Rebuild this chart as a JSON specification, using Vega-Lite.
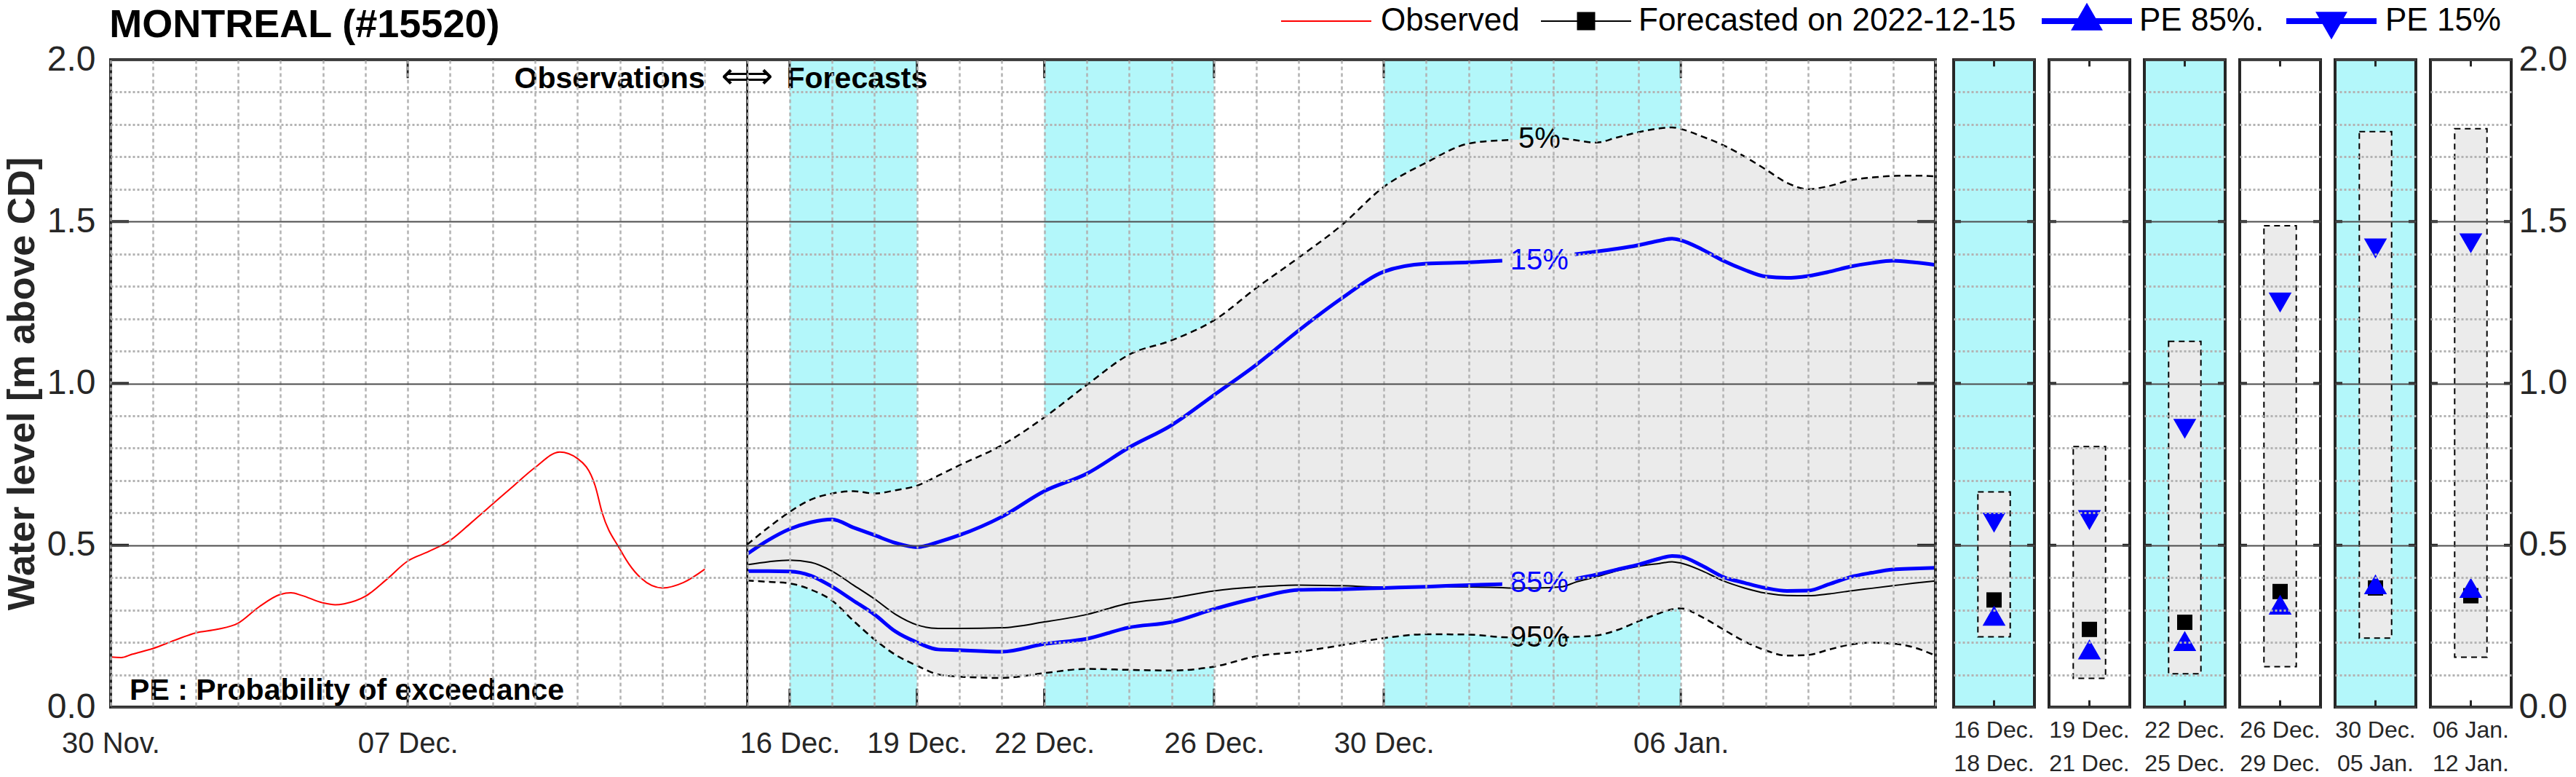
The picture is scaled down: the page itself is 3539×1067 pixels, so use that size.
{
  "$schema": "https://vega.github.io/schema/vega-lite/v6.json",
  "background": "white",
  "padding": {"left": 4, "top": 5, "right": 0, "bottom": 0},
  "title": {"text": "MONTREAL (#15520)", "anchor": "start", "fontSize": 54, "fontWeight": "bold", "color": "#000000", "font": "Liberation Sans", "offset": 0, "dx": 146, "dy": 57},
  "spacing": 25,
  "bounds": "flush",
  "resolve": {"scale": {"x": "independent", "y": "independent", "color": "independent"}},
  "config": {
    "view": {"stroke": null},
    "font": "Liberation Sans",
    "axis": {"labelFont": "Liberation Sans", "titleFont": "Liberation Sans"},
    "text": {"font": "Liberation Sans"},
    "legend": {"orient": "none", "direction": "horizontal", "title": null, "padding": 0, "symbolSize": 1600, "labelFontSize": 44, "labelFont": "Liberation Sans", "labelColor": "#000000", "labelLimit": 2000, "labelBaseline": "middle", "symbolOpacity": 1}
  },
  "datasets": {
    "obs": [
      {"t": "2022-11-30T00:00", "v": 0.155}, {"t": "2022-11-30T06:00", "v": 0.153}, {"t": "2022-11-30T12:00", "v": 0.163},
      {"t": "2022-12-01T00:00", "v": 0.181}, {"t": "2022-12-01T12:00", "v": 0.206}, {"t": "2022-12-02T00:00", "v": 0.229},
      {"t": "2022-12-02T12:00", "v": 0.240}, {"t": "2022-12-03T00:00", "v": 0.259}, {"t": "2022-12-03T12:00", "v": 0.310},
      {"t": "2022-12-04T00:00", "v": 0.348}, {"t": "2022-12-04T06:00", "v": 0.353}, {"t": "2022-12-04T12:00", "v": 0.345},
      {"t": "2022-12-05T00:00", "v": 0.322}, {"t": "2022-12-05T07:00", "v": 0.316}, {"t": "2022-12-05T12:00", "v": 0.319},
      {"t": "2022-12-06T00:00", "v": 0.342}, {"t": "2022-12-06T12:00", "v": 0.394}, {"t": "2022-12-07T00:00", "v": 0.451},
      {"t": "2022-12-07T12:00", "v": 0.481}, {"t": "2022-12-08T00:00", "v": 0.515}, {"t": "2022-12-08T12:00", "v": 0.570},
      {"t": "2022-12-09T00:00", "v": 0.627}, {"t": "2022-12-09T12:00", "v": 0.684}, {"t": "2022-12-10T00:00", "v": 0.740},
      {"t": "2022-12-10T14:00", "v": 0.788}, {"t": "2022-12-11T00:00", "v": 0.768}, {"t": "2022-12-11T10:00", "v": 0.684},
      {"t": "2022-12-11T14:00", "v": 0.600}, {"t": "2022-12-12T00:00", "v": 0.488}, {"t": "2022-12-12T05:00", "v": 0.443},
      {"t": "2022-12-12T12:00", "v": 0.398}, {"t": "2022-12-13T00:00", "v": 0.368}, {"t": "2022-12-13T12:00", "v": 0.385},
      {"t": "2022-12-14T00:00", "v": 0.426}
    ],
    "fc": [
      {"t": "2022-12-15T00:00", "p5": 0.502, "p15": 0.473, "fc": 0.440, "p85": 0.420, "p95": 0.391},
      {"t": "2022-12-15T12:00", "p5": 0.555, "p15": 0.516, "fc": 0.449, "p85": 0.420, "p95": 0.387},
      {"t": "2022-12-16T00:00", "p5": 0.603, "p15": 0.550, "fc": 0.454, "p85": 0.419, "p95": 0.382},
      {"t": "2022-12-16T12:00", "p5": 0.641, "p15": 0.571, "fc": 0.447, "p85": 0.406, "p95": 0.363},
      {"t": "2022-12-17T00:00", "p5": 0.660, "p15": 0.580, "fc": 0.420, "p85": 0.372, "p95": 0.329},
      {"t": "2022-12-17T12:00", "p5": 0.667, "p15": 0.555, "fc": 0.377, "p85": 0.329, "p95": 0.267},
      {"t": "2022-12-18T00:00", "p5": 0.660, "p15": 0.531, "fc": 0.334, "p85": 0.286, "p95": 0.209},
      {"t": "2022-12-18T12:00", "p5": 0.670, "p15": 0.507, "fc": 0.286, "p85": 0.233, "p95": 0.161},
      {"t": "2022-12-19T00:00", "p5": 0.684, "p15": 0.494, "fc": 0.254, "p85": 0.200, "p95": 0.128},
      {"t": "2022-12-19T12:00", "p5": 0.715, "p15": 0.510, "fc": 0.243, "p85": 0.178, "p95": 0.101},
      {"t": "2022-12-20T00:00", "p5": 0.747, "p15": 0.531, "fc": 0.243, "p85": 0.176, "p95": 0.094},
      {"t": "2022-12-21T00:00", "p5": 0.809, "p15": 0.588, "fc": 0.245, "p85": 0.171, "p95": 0.090},
      {"t": "2022-12-22T00:00", "p5": 0.895, "p15": 0.667, "fc": 0.263, "p85": 0.195, "p95": 0.105},
      {"t": "2022-12-23T00:00", "p5": 0.995, "p15": 0.721, "fc": 0.286, "p85": 0.211, "p95": 0.118},
      {"t": "2022-12-24T00:00", "p5": 1.089, "p15": 0.802, "fc": 0.321, "p85": 0.246, "p95": 0.115},
      {"t": "2022-12-25T00:00", "p5": 1.133, "p15": 0.871, "fc": 0.337, "p85": 0.263, "p95": 0.113},
      {"t": "2022-12-26T00:00", "p5": 1.195, "p15": 0.964, "fc": 0.359, "p85": 0.303, "p95": 0.125},
      {"t": "2022-12-27T00:00", "p5": 1.295, "p15": 1.058, "fc": 0.371, "p85": 0.337, "p95": 0.157},
      {"t": "2022-12-28T00:00", "p5": 1.389, "p15": 1.164, "fc": 0.377, "p85": 0.362, "p95": 0.171},
      {"t": "2022-12-29T00:00", "p5": 1.488, "p15": 1.262, "fc": 0.375, "p85": 0.364, "p95": 0.191},
      {"t": "2022-12-30T00:00", "p5": 1.607, "p15": 1.345, "fc": 0.371, "p85": 0.368, "p95": 0.213},
      {"t": "2022-12-31T00:00", "p5": 1.682, "p15": 1.370, "fc": 0.371, "p85": 0.372, "p95": 0.225},
      {"t": "2023-01-01T00:00", "p5": 1.741, "p15": 1.374, "fc": 0.371, "p85": 0.377, "p95": 0.224},
      {"t": "2023-01-01T19:00", "p5": 1.751, "p15": 1.379, "fc": 0.369, "p85": 0.380, "p95": 0.216},
      {"t": "2023-01-02T00:00", "p5": 1.752, "p15": null, "fc": 0.368, "p85": null, "p95": 0.215},
      {"t": "2023-01-02T14:00", "p5": null, "p15": null, "fc": 0.368, "p85": null, "p95": null},
      {"t": "2023-01-03T05:00", "p5": 1.757, "p15": null, "fc": 0.372, "p85": null, "p95": 0.215},
      {"t": "2023-01-03T12:00", "p5": 1.752, "p15": 1.399, "fc": 0.385, "p85": 0.396, "p95": 0.217},
      {"t": "2023-01-04T00:00", "p5": 1.744, "p15": 1.407, "fc": 0.402, "p85": 0.409, "p95": 0.221},
      {"t": "2023-01-04T12:00", "p5": 1.760, "p15": 1.416, "fc": 0.421, "p85": 0.425, "p95": 0.238},
      {"t": "2023-01-05T00:00", "p5": 1.776, "p15": 1.427, "fc": 0.435, "p85": 0.440, "p95": 0.265},
      {"t": "2023-01-05T12:00", "p5": 1.788, "p15": 1.441, "fc": 0.444, "p85": 0.459, "p95": 0.290},
      {"t": "2023-01-05T19:00", "p5": 1.791, "p15": 1.447, "fc": 0.449, "p85": 0.467, "p95": 0.302},
      {"t": "2023-01-06T00:00", "p5": 1.786, "p15": 1.442, "fc": 0.445, "p85": 0.465, "p95": 0.305},
      {"t": "2023-01-06T12:00", "p5": 1.763, "p15": 1.414, "fc": 0.421, "p85": 0.437, "p95": 0.278},
      {"t": "2023-01-07T00:00", "p5": 1.736, "p15": 1.379, "fc": 0.390, "p85": 0.402, "p95": 0.240},
      {"t": "2023-01-07T12:00", "p5": 1.701, "p15": 1.351, "fc": 0.368, "p85": 0.384, "p95": 0.203},
      {"t": "2023-01-08T00:00", "p5": 1.661, "p15": 1.330, "fc": 0.352, "p85": 0.368, "p95": 0.175},
      {"t": "2023-01-08T12:00", "p5": 1.620, "p15": 1.326, "fc": 0.345, "p85": 0.359, "p95": 0.159},
      {"t": "2023-01-09T00:00", "p5": 1.600, "p15": 1.332, "fc": 0.344, "p85": 0.360, "p95": 0.161},
      {"t": "2023-01-09T12:00", "p5": 1.610, "p15": 1.345, "fc": 0.350, "p85": 0.380, "p95": 0.178},
      {"t": "2023-01-10T00:00", "p5": 1.628, "p15": 1.361, "fc": 0.359, "p85": 0.402, "p95": 0.193},
      {"t": "2023-01-10T12:00", "p5": 1.636, "p15": 1.372, "fc": 0.367, "p85": 0.415, "p95": 0.199},
      {"t": "2023-01-11T00:00", "p5": 1.641, "p15": 1.379, "fc": 0.375, "p85": 0.425, "p95": 0.196},
      {"t": "2023-01-11T12:00", "p5": 1.642, "p15": 1.374, "fc": 0.383, "p85": 0.428, "p95": 0.184},
      {"t": "2023-01-12T00:00", "p5": 1.640, "p15": 1.366, "fc": 0.390, "p85": 0.430, "p95": 0.159}
    ],
    "bands": [
      {"s": "2022-12-16T00:00", "e": "2022-12-19T00:00"},
      {"s": "2022-12-22T00:00", "e": "2022-12-26T00:00"},
      {"s": "2022-12-30T00:00", "e": "2023-01-06T00:00"}
    ],
    "xticks": [
      {"t": "2022-12-07T00:00"}, {"t": "2022-12-16T00:00"}, {"t": "2022-12-19T00:00"}, {"t": "2022-12-22T00:00"},
      {"t": "2022-12-26T00:00"}, {"t": "2022-12-30T00:00"}, {"t": "2023-01-06T00:00"}
    ],
    "yticks": [{"v": 0.5}, {"v": 1.0}, {"v": 1.5}],
    "panels": [
      {"p": 1, "lab": "16 Dec.|18 Dec.", "lo": 0.217, "hi": 0.665, "fc": 0.331, "p85": 0.272, "p15": 0.580},
      {"p": 2, "lab": "19 Dec.|21 Dec.", "lo": 0.089, "hi": 0.805, "fc": 0.240, "p85": 0.168, "p15": 0.588},
      {"p": 3, "lab": "22 Dec.|25 Dec.", "lo": 0.103, "hi": 1.130, "fc": 0.262, "p85": 0.194, "p15": 0.870},
      {"p": 4, "lab": "26 Dec.|29 Dec.", "lo": 0.125, "hi": 1.487, "fc": 0.357, "p85": 0.306, "p15": 1.260},
      {"p": 5, "lab": "30 Dec.|05 Jan.", "lo": 0.213, "hi": 1.778, "fc": 0.368, "p85": 0.369, "p15": 1.427},
      {"p": 6, "lab": "06 Jan.|12 Jan.", "lo": 0.154, "hi": 1.787, "fc": 0.344, "p85": 0.358, "p15": 1.443}
    ]
  },
  "hconcat": [
    {
      "width": 2507,
      "height": 889,
      "resolve": {"scale": {"color": "independent"}, "legend": {"color": "independent"}},
      "layer": [
        {
          "data": {"name": "bands"},
          "mark": {"type": "rect", "color": "#b3f7fa", "opacity": 1},
          "encoding": {
            "x": {"field": "s", "type": "temporal",
              "scale": {"domain": [{"year": 2022, "month": 11, "date": 30}, {"year": 2023, "month": 1, "date": 12}], "nice": false},
              "axis": {"orient": "bottom", "tickCount": {"interval": "day", "step": 1}, "format": "%d %b.",
                "labelExpr": "indexof(['30 Nov.','07 Dec.','16 Dec.','19 Dec.','22 Dec.','26 Dec.','30 Dec.','06 Jan.'], datum.label) >= 0 ? datum.label : ''",
                "labelOverlap": false, "labelFlush": false, "labelBound": false, "labelFontSize": 40, "labelColor": "#262626", "labelPadding": 30,
                "ticks": false, "domain": false, "grid": true, "gridColor": "#b3b3b3", "gridDash": [5, 4], "gridWidth": 2.5, "title": null, "zindex": 1}},
            "x2": {"field": "e"}
          }
        },
        {
          "data": {"name": "fc"},
          "transform": [{"filter": "isValid(datum.p5) && isValid(datum.p95)"}],
          "mark": {"type": "area", "color": "#ebebeb", "opacity": 1, "interpolate": "monotone"},
          "encoding": {
            "x": {"field": "t", "type": "temporal"},
            "y": {"field": "p95", "type": "quantitative",
              "scale": {"domain": [0, 2], "nice": false, "zero": false},
              "axis": {"orient": "left", "values": [0, 0.1, 0.2, 0.3, 0.4, 0.5, 0.6, 0.7, 0.8, 0.9, 1, 1.1, 1.2, 1.3, 1.4, 1.5, 1.6, 1.7, 1.8, 1.9, 2],
                "labelExpr": "abs(datum.value*2-round(datum.value*2))<0.001 ? format(datum.value,'.1f') : ''",
                "labelFontSize": 48, "labelColor": "#262626", "labelPadding": 21, "labelBound": false, "labelFlush": false, "labelOverlap": false,
                "ticks": false, "domain": false, "grid": true,
                "gridColor": {"condition": {"test": "abs(datum.value*2-round(datum.value*2))<0.001", "value": "#4d4d4d"}, "value": "#b3b3b3"},
                "gridDash": {"condition": {"test": "abs(datum.value*2-round(datum.value*2))<0.001", "value": []}, "value": [3, 3]},
                "gridWidth": {"condition": {"test": "abs(datum.value*2-round(datum.value*2))<0.001", "value": 2}, "value": 3},
                "title": "Water level [m above CD]", "titleFontSize": 52, "titleFontWeight": "bold", "titleColor": "#262626", "titlePadding": 7, "zindex": 1}},
            "y2": {"field": "p5"}
          }
        },
        {
          "data": {"name": "fc"},
          "mark": {"type": "line", "color": "#000000", "strokeWidth": 2.5, "strokeDash": [9, 6], "interpolate": "monotone", "invalid": "break-paths-filter-domains"},
          "encoding": {"x": {"field": "t", "type": "temporal"}, "y": {"field": "p5", "type": "quantitative"}}
        },
        {
          "data": {"name": "fc"},
          "mark": {"type": "line", "color": "#000000", "strokeWidth": 2.5, "strokeDash": [9, 6], "interpolate": "monotone", "invalid": "break-paths-filter-domains"},
          "encoding": {"x": {"field": "t", "type": "temporal"}, "y": {"field": "p95", "type": "quantitative"}}
        },
        {
          "data": {"name": "obs"},
          "mark": {"type": "line", "strokeWidth": 2, "interpolate": "monotone"},
          "encoding": {
            "x": {"field": "t", "type": "temporal"},
            "y": {"field": "v", "type": "quantitative"},
            "color": {"datum": "Observed", "type": "nominal",
              "scale": {"domain": ["Observed"], "range": ["#ff0000"]},
              "legend": {"legendX": 1648, "legendY": -75, "labelOffset": 53, "symbolStrokeWidth": 2, "symbolType": "M-3.1,0H3.1",
                "encode": {"symbols": {"update": {"shape": {"value": "M-3.1,0H3.1"}, "fill": {"value": "#ff0000"}, "stroke": {"value": "#ff0000"}, "strokeWidth": {"value": 2}, "opacity": {"value": 1}}}}}
            }
          }
        },
        {
          "data": {"name": "fc"},
          "mark": {"type": "line", "strokeWidth": 2, "interpolate": "monotone"},
          "encoding": {"x": {"field": "t", "type": "temporal"}, "y": {"field": "fc", "type": "quantitative"},
            "color": {"datum": "Forecasted on 2022-12-15", "type": "nominal",
              "scale": {"domain": ["Forecasted on 2022-12-15"], "range": ["#000000"]},
              "legend": {"legendX": 2005, "legendY": -75, "labelOffset": 50, "symbolStrokeWidth": 2, "symbolType": "M-3.1,0H3.1M-0.575,-0.575H0.575V0.575H-0.575Z",
                "encode": {"symbols": {"update": {"shape": {"value": "M-3.1,0H3.1M-0.575,-0.575H0.575V0.575H-0.575Z"}, "fill": {"value": "#000000"}, "stroke": {"value": "#000000"}, "strokeWidth": {"value": 2}, "opacity": {"value": 1}}}}}
            }
          }
        },
        {
          "data": {"name": "fc"},
          "mark": {"type": "line", "strokeWidth": 5, "interpolate": "monotone", "invalid": "break-paths-filter-domains"},
          "encoding": {"x": {"field": "t", "type": "temporal"}, "y": {"field": "p85", "type": "quantitative"},
            "color": {"datum": "PE 85%.", "type": "nominal",
              "scale": {"domain": ["PE 85%."], "range": ["#0000ff"]},
              "legend": {"legendX": 2691, "legendY": -77, "labelOffset": 48, "symbolStrokeWidth": 8, "symbolType": "M-3.1,0H3.1M0,-0.867L0.75,0.433L-0.75,0.433Z",
                "encode": {"symbols": {"update": {"shape": {"value": "M-3.1,0H3.1M0,-0.867L0.75,0.433L-0.75,0.433Z"}, "fill": {"value": "#0000ff"}, "stroke": {"value": "#0000ff"}, "strokeWidth": {"value": 8}, "opacity": {"value": 1}}}}}
            }
          }
        },
        {
          "data": {"name": "fc"},
          "mark": {"type": "line", "strokeWidth": 5, "interpolate": "monotone", "invalid": "break-paths-filter-domains"},
          "encoding": {"x": {"field": "t", "type": "temporal"}, "y": {"field": "p15", "type": "quantitative"},
            "color": {"datum": "PE 15%", "type": "nominal",
              "scale": {"domain": ["PE 15%"], "range": ["#0000ff"]},
              "legend": {"legendX": 3027, "legendY": -77, "labelOffset": 50, "symbolStrokeWidth": 8, "symbolType": "M-3.1,0H3.1M0,0.867L0.75,-0.433L-0.75,-0.433Z",
                "encode": {"symbols": {"update": {"shape": {"value": "M-3.1,0H3.1M0,0.867L0.75,-0.433L-0.75,-0.433Z"}, "fill": {"value": "#0000ff"}, "stroke": {"value": "#0000ff"}, "strokeWidth": {"value": 8}, "opacity": {"value": 1}}}}}
            }
          }
        },
        {
          "data": {"values": [{}]},
          "mark": {"type": "rule", "color": "#000000", "strokeWidth": 2.5},
          "encoding": {"x": {"datum": {"year": 2022, "month": 12, "date": 15}, "type": "temporal"}}
        },
        {
          "data": {"values": [{}]},
          "mark": {"type": "text", "text": "Observations", "align": "right", "baseline": "alphabetic", "dx": -58, "fontSize": 41, "fontWeight": "bold", "color": "#000000"},
          "encoding": {"x": {"datum": {"year": 2022, "month": 12, "date": 15}, "type": "temporal"}, "y": {"datum": 1.912, "type": "quantitative"}}
        },
        {
          "data": {"values": [{}]},
          "mark": {"type": "text", "text": "⟺", "align": "center", "baseline": "alphabetic", "fontSize": 50, "font": "DejaVu Sans", "color": "#000000"},
          "encoding": {"x": {"datum": {"year": 2022, "month": 12, "date": 15}, "type": "temporal"}, "y": {"datum": 1.912, "type": "quantitative"}}
        },
        {
          "data": {"values": [{}]},
          "mark": {"type": "text", "text": "Forecasts", "align": "left", "baseline": "alphabetic", "dx": 54, "fontSize": 41, "fontWeight": "bold", "color": "#000000"},
          "encoding": {"x": {"datum": {"year": 2022, "month": 12, "date": 15}, "type": "temporal"}, "y": {"datum": 1.912, "type": "quantitative"}}
        },
        {
          "data": {"values": [{}]},
          "mark": {"type": "text", "text": "PE : Probability of exceedance", "align": "left", "baseline": "alphabetic", "fontSize": 41, "fontWeight": "bold", "color": "#000000"},
          "encoding": {"x": {"datum": {"year": 2022, "month": 11, "date": 30, "hours": 10, "minutes": 45}, "type": "temporal"}, "y": {"datum": 0.0225, "type": "quantitative"}}
        },
        {
          "data": {"values": [{}]},
          "mark": {"type": "text", "text": "5%", "align": "center", "baseline": "middle", "fontSize": 40, "color": "#000000"},
          "encoding": {"x": {"datum": {"year": 2023, "month": 1, "date": 2, "hours": 16}, "type": "temporal"}, "y": {"datum": 1.755, "type": "quantitative"}}
        },
        {
          "data": {"values": [{}]},
          "mark": {"type": "text", "text": "15%", "align": "center", "baseline": "middle", "fontSize": 40, "color": "#0000ff"},
          "encoding": {"x": {"datum": {"year": 2023, "month": 1, "date": 2, "hours": 16}, "type": "temporal"}, "y": {"datum": 1.379, "type": "quantitative"}}
        },
        {
          "data": {"values": [{}]},
          "mark": {"type": "text", "text": "85%", "align": "center", "baseline": "middle", "fontSize": 40, "color": "#0000ff"},
          "encoding": {"x": {"datum": {"year": 2023, "month": 1, "date": 2, "hours": 16}, "type": "temporal"}, "y": {"datum": 0.382, "type": "quantitative"}}
        },
        {
          "data": {"values": [{}]},
          "mark": {"type": "text", "text": "95%", "align": "center", "baseline": "middle", "fontSize": 40, "color": "#000000"},
          "encoding": {"x": {"datum": {"year": 2023, "month": 1, "date": 2, "hours": 16}, "type": "temporal"}, "y": {"datum": 0.214, "type": "quantitative"}}
        },
        {
          "data": {"name": "xticks"},
          "mark": {"type": "rule", "color": "#262626", "strokeWidth": 3},
          "encoding": {"x": {"field": "t", "type": "temporal"}, "y": {"datum": 0, "type": "quantitative"}, "y2": {"datum": 0.057}}
        },
        {
          "data": {"name": "xticks"},
          "mark": {"type": "rule", "color": "#262626", "strokeWidth": 3},
          "encoding": {"x": {"field": "t", "type": "temporal"}, "y": {"datum": 2, "type": "quantitative"}, "y2": {"datum": 1.943}}
        },
        {
          "data": {"name": "yticks"},
          "mark": {"type": "rule", "color": "#262626", "strokeWidth": 4},
          "encoding": {"y": {"field": "v", "type": "quantitative"}, "x": {"datum": {"year": 2022, "month": 11, "date": 30}, "type": "temporal"}, "x2": {"datum": {"year": 2022, "month": 11, "date": 30, "hours": 10, "minutes": 18}}}
        },
        {
          "data": {"name": "yticks"},
          "mark": {"type": "rule", "color": "#262626", "strokeWidth": 4},
          "encoding": {"y": {"field": "v", "type": "quantitative"}, "x": {"datum": {"year": 2023, "month": 1, "date": 12}, "type": "temporal"}, "x2": {"datum": {"year": 2023, "month": 1, "date": 11, "hours": 13, "minutes": 42}}}
        },
        {
          "data": {"values": [{}]},
          "mark": {"type": "rect", "fillOpacity": 0, "stroke": "#262626", "strokeWidth": 4},
          "encoding": {"x": {"datum": {"year": 2022, "month": 11, "date": 30}, "type": "temporal"}, "x2": {"datum": {"year": 2023, "month": 1, "date": 12}}, "y": {"datum": 0, "type": "quantitative"}, "y2": {"datum": 2}}
        }
      ]
    },
    {
      "data": {"name": "panels"},
      "facet": {"column": {"field": "lab", "type": "nominal", "sort": {"field": "p", "op": "min"},
        "header": {"title": null, "labelOrient": "bottom", "labelExpr": "split(datum.value, '|')", "labelFontSize": 32, "labelFont": "Liberation Sans", "labelColor": "#262626", "labelPadding": 15, "labelLineHeight": 46, "labelBaseline": "top", "labelAlign": "center"}}},
      "spacing": 16,
      "spec": {
        "width": 111,
        "height": 889,
        "layer": [
          {
            "mark": {"type": "rect", "opacity": 1},
            "encoding": {
              "x": {"datum": -0.5, "type": "quantitative", "scale": {"domain": [-0.5, 0.5], "nice": false, "zero": false}, "axis": null},
              "x2": {"datum": 0.5},
              "y": {"datum": 0, "type": "quantitative", "scale": {"domain": [0, 2], "nice": false},
                "axis": {"orient": "right", "values": [0, 0.1, 0.2, 0.3, 0.4, 0.5, 0.6, 0.7, 0.8, 0.9, 1, 1.1, 1.2, 1.3, 1.4, 1.5, 1.6, 1.7, 1.8, 1.9, 2],
                  "labelExpr": "abs(datum.value*2-round(datum.value*2))<0.001 ? format(datum.value,'.1f') : ''",
                  "labelFontSize": 48, "labelColor": "#262626", "labelPadding": 8, "labelBound": false, "labelFlush": false, "labelOverlap": false,
                  "ticks": false, "domain": false, "grid": true,
                  "gridColor": {"condition": {"test": "abs(datum.value*2-round(datum.value*2))<0.001", "value": "#4d4d4d"}, "value": "#b3b3b3"},
                  "gridDash": {"condition": {"test": "abs(datum.value*2-round(datum.value*2))<0.001", "value": []}, "value": [3, 3]},
                  "gridWidth": {"condition": {"test": "abs(datum.value*2-round(datum.value*2))<0.001", "value": 2}, "value": 3},
                  "title": null, "zindex": 1}},
              "y2": {"datum": 2},
              "color": {"condition": {"test": "datum.p % 2 == 1", "value": "#b3f7fa"}, "value": "#ffffff"}
            }
          },
          {
            "mark": {"type": "rect", "fill": "#ebebeb", "stroke": "#000000", "strokeWidth": 2, "strokeDash": [8, 6], "opacity": 1},
            "encoding": {"x": {"datum": -0.2, "type": "quantitative"}, "x2": {"datum": 0.2}, "y": {"field": "lo", "type": "quantitative"}, "y2": {"field": "hi"}}
          },
          {
            "mark": {"type": "point", "shape": "square", "filled": true, "size": 441, "color": "#000000", "opacity": 1},
            "encoding": {"x": {"datum": 0, "type": "quantitative"}, "y": {"field": "fc", "type": "quantitative"}}
          },
          {
            "mark": {"type": "point", "shape": "M0,1.156L1,-0.578L-1,-0.578Z", "filled": true, "size": 998, "color": "#0000ff", "opacity": 1, "strokeWidth": 0},
            "encoding": {"x": {"datum": 0, "type": "quantitative"}, "y": {"field": "p15", "type": "quantitative"}}
          },
          {
            "mark": {"type": "point", "shape": "M0,-1.156L1,0.578L-1,0.578Z", "filled": true, "size": 998, "color": "#0000ff", "opacity": 1, "strokeWidth": 0},
            "encoding": {"x": {"datum": 0, "type": "quantitative"}, "y": {"field": "p85", "type": "quantitative"}}
          },
          {"mark": {"type": "rule", "color": "#262626", "strokeWidth": 4}, "encoding": {"x": {"datum": -0.5, "type": "quantitative"}, "x2": {"datum": -0.41}, "y": {"datum": 0.5, "type": "quantitative"}}},
          {"mark": {"type": "rule", "color": "#262626", "strokeWidth": 4}, "encoding": {"x": {"datum": -0.5, "type": "quantitative"}, "x2": {"datum": -0.41}, "y": {"datum": 1.0, "type": "quantitative"}}},
          {"mark": {"type": "rule", "color": "#262626", "strokeWidth": 4}, "encoding": {"x": {"datum": -0.5, "type": "quantitative"}, "x2": {"datum": -0.41}, "y": {"datum": 1.5, "type": "quantitative"}}},
          {"mark": {"type": "rule", "color": "#262626", "strokeWidth": 4}, "encoding": {"x": {"datum": 0.5, "type": "quantitative"}, "x2": {"datum": 0.41}, "y": {"datum": 0.5, "type": "quantitative"}}},
          {"mark": {"type": "rule", "color": "#262626", "strokeWidth": 4}, "encoding": {"x": {"datum": 0.5, "type": "quantitative"}, "x2": {"datum": 0.41}, "y": {"datum": 1.0, "type": "quantitative"}}},
          {"mark": {"type": "rule", "color": "#262626", "strokeWidth": 4}, "encoding": {"x": {"datum": 0.5, "type": "quantitative"}, "x2": {"datum": 0.41}, "y": {"datum": 1.5, "type": "quantitative"}}},
          {"mark": {"type": "rule", "color": "#262626", "strokeWidth": 3}, "encoding": {"x": {"datum": 0, "type": "quantitative"}, "y": {"datum": 0, "type": "quantitative"}, "y2": {"datum": 0.021}}},
          {"mark": {"type": "rule", "color": "#262626", "strokeWidth": 3}, "encoding": {"x": {"datum": 0, "type": "quantitative"}, "y": {"datum": 2, "type": "quantitative"}, "y2": {"datum": 1.979}}},
          {
            "mark": {"type": "rect", "fillOpacity": 0, "stroke": "#262626", "strokeWidth": 4},
            "encoding": {"x": {"datum": -0.5, "type": "quantitative"}, "x2": {"datum": 0.5}, "y": {"datum": 0, "type": "quantitative"}, "y2": {"datum": 2}}
          }
        ]
      }
    }
  ]
}
